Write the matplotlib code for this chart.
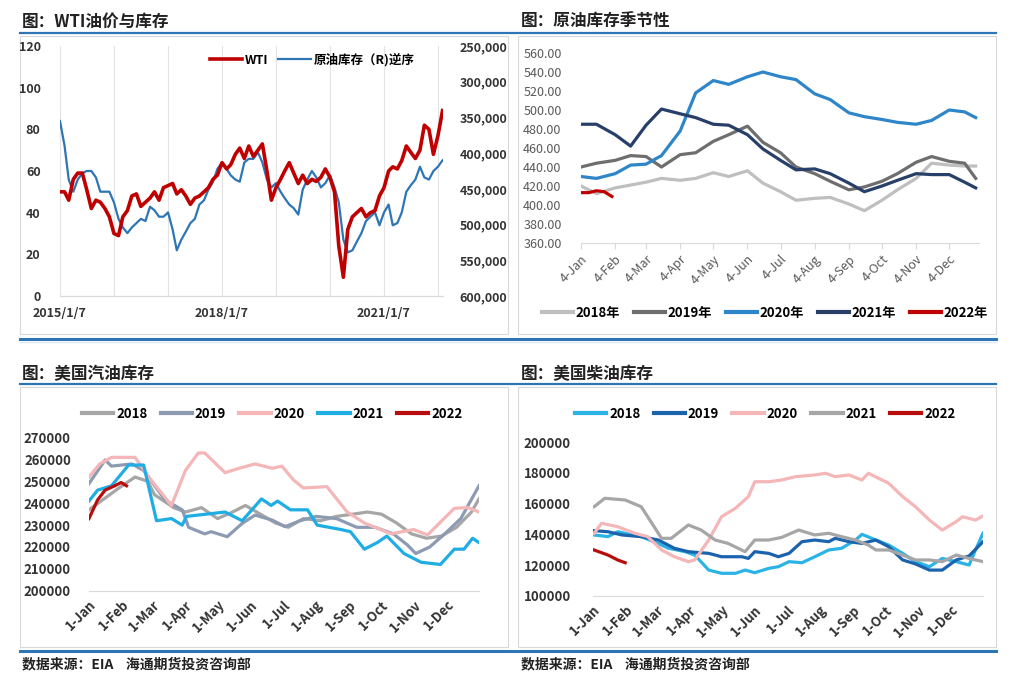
import matplotlib
matplotlib.use("Agg")
import matplotlib.pyplot as plt
import pandas as pd
from matplotlib.lines import Line2D
from matplotlib.patches import Rectangle
from matplotlib.ticker import FuncFormatter

plt.rcParams["font.family"] = ["Noto Sans CJK SC", "DejaVu Sans"]

W, H = 1016, 675
RULE = "#2E75B6"
BOX = "#D9D9D9"

# ---- WTI price vs crude inventory (monthly readings, 2015-01 .. 2022-02) ----
wti_months = pd.period_range("2015-01", "2022-02", freq="M")
wti_price = [
    50, 50, 46, 56, 59, 59, 51, 42, 46, 45, 42, 38,
    30, 29, 38, 41, 48, 49, 43, 45, 47, 50, 46, 52,
    53, 54, 49, 51, 48, 44, 47, 48, 50, 52, 56, 58,
    64, 61, 63, 68, 71, 66, 72, 67, 70, 73, 60, 46,
    52, 56, 60, 64, 59, 54, 58, 54, 56, 55, 57, 61,
    57, 50, 24, 9, 32, 38, 40, 42, 38, 40, 41, 48,
    52, 60, 62, 61, 65, 72, 69, 66, 70, 82, 80, 68,
    77, 89,
]
crude_stock = [
    355000, 390000, 437000, 454000, 437000, 428000, 425000, 425000, 434000, 454000, 454000, 454000,
    469000, 492000, 504000, 512000, 504000, 498000, 492000, 495000, 475000, 480000, 489000, 489000,
    483000, 507000, 536000, 521000, 510000, 498000, 492000, 472000, 466000, 451000, 440000, 422000,
    413000, 422000, 431000, 437000, 440000, 413000, 408000, 408000, 399000, 413000, 437000, 448000,
    442000, 454000, 463000, 472000, 477000, 486000, 451000, 437000, 425000, 434000, 448000, 442000,
    431000, 448000, 469000, 521000, 539000, 536000, 524000, 512000, 495000, 489000, 483000, 501000,
    483000, 472000, 501000, 498000, 483000, 454000, 445000, 437000, 419000, 434000, 437000, 425000,
    419000, 410000,
]
wti_years = [2015, 2016, 2017, 2018, 2019, 2020, 2021, 2022]
wti_labeled = [2015, 2018, 2021]

# ---- crude inventory seasonality (million bbl) ----
crude_dates = ["01-04", "01-18", "02-04", "02-18", "03-04", "03-18", "04-04", "04-18", "05-04",
               "05-18", "06-04", "06-18", "07-04", "07-18", "08-04", "08-18", "09-04", "09-18",
               "10-04", "10-18", "11-04", "11-18", "12-04", "12-18", "12-28"]
crude_2018 = [420, 412, 418, 421, 424, 428, 426, 428, 434, 430, 436, 423, 414, 405, 407, 408, 401,
              394, 405, 416, 428, 444, 442, 441, 441]
crude_2019 = [440, 444, 447, 452, 451, 440, 453, 455, 467, 474, 483, 466, 455, 440, 433, 425, 416,
              419, 425, 433, 445, 451, 446, 444, 428]
crude_2020 = [430, 428, 433, 442, 443, 452, 478, 518, 531, 527, 535, 540, 535, 532, 517, 511, 497,
              493, 490, 487, 485, 489, 500, 498, 492]
crude_2021 = [485, 485, 474, 462, 484, 501, 496, 492, 485, 484, 474, 459, 447, 437, 438, 433, 423,
              414, 420, 426, 433, 432, 432, 424, 418]
crude_2022_dates = ["01-04", "01-11", "01-18", "01-25", "02-01"]
crude_2022 = [413, 413, 415, 414, 409]

# ---- US gasoline inventory (thousand bbl) ----
gas_2018_dates = ["01-01", "01-15", "01-29", "02-13", "02-25", "03-03", "03-21", "04-01", "04-16",
                  "05-01", "05-15", "05-27", "06-10", "06-24", "07-06", "07-20", "08-05", "08-20",
                  "09-04", "09-18", "10-01", "10-15", "10-29", "11-12", "11-26", "12-10", "12-24",
                  "12-31"]
gas_2018 = [237000, 242000, 247000, 252000, 250000, 244000, 238000, 236000, 238000, 233000, 236000,
            239000, 235000, 231000, 229000, 233000, 232000, 234000, 235000, 236000, 235000, 231000,
            226000, 224000, 225000, 229000, 236000, 242000]
gas_2019_dates = ["01-01", "01-16", "01-22", "02-10", "02-21", "03-13", "03-29", "04-04", "04-19",
                  "04-25", "05-10", "05-24", "06-05", "06-21", "07-03", "07-17", "08-01", "08-20",
                  "09-08", "09-25", "10-12", "10-25", "11-02", "11-15", "11-29", "12-14", "12-31"]
gas_2019 = [249000, 259800, 257000, 258000, 255000, 241500, 237000, 229000, 226000, 227000, 224700,
            230800, 234600, 232300, 229300, 232000, 234000, 233000, 229000, 229000, 226000, 221000,
            217000, 220000, 226000, 233000, 248000]
gas_2020_dates = ["01-01", "01-11", "01-22", "02-13", "02-28", "03-19", "04-01", "04-13", "04-19",
                  "05-08", "05-21", "06-05", "06-21", "06-30", "07-11", "07-20", "08-11", "08-30",
                  "09-15", "10-10", "10-31", "11-13", "12-08", "12-21", "12-31"]
gas_2020 = [252000, 258000, 261000, 261000, 250600, 239000, 255000, 263000, 263000, 254000, 256000,
            258000, 256000, 257000, 250600, 247000, 247600, 236000, 231000, 226000, 228000, 225500,
            237700, 238000, 236000]
gas_2021_dates = ["01-01", "01-09", "01-22", "02-07", "02-21", "03-05", "03-19", "03-29", "04-02",
                  "05-08", "05-24", "06-11", "06-20", "06-26", "07-08", "07-24", "08-02", "08-24",
                  "09-02", "09-15", "09-27", "10-06", "10-22", "11-07", "11-25", "12-08", "12-17",
                  "12-25", "12-31"]
gas_2021 = [241000, 246000, 248000, 257500, 257500, 232000, 233000, 230000, 234000, 236000, 232000,
            242000, 239000, 241000, 237000, 237000, 230000, 228000, 227000, 219000, 222000, 225000,
            217000, 213000, 212000, 219000, 219000, 224000, 222000]
gas_2022_dates = ["01-01", "01-09", "01-16", "01-25", "01-31", "02-05"]
gas_2022 = [233000, 241500, 246000, 248000, 249500, 248000]

# ---- US distillate inventory (thousand bbl) ----
dsl_2018_dates = ["01-02", "01-15", "01-24", "02-15", "03-03", "03-12", "03-28", "04-06", "04-19",
                  "05-01", "05-14", "05-23", "06-01", "06-14", "06-23", "07-03", "07-15", "07-27",
                  "08-09", "08-21", "09-03", "09-09", "09-22", "10-04", "10-17", "10-29", "11-11",
                  "11-23", "12-06", "12-18", "12-24", "12-31"]
dsl_2018 = [139600, 138500, 141700, 138500, 134000, 131000, 128700, 126500, 116700, 114600, 114600,
            116700, 115000, 117800, 118900, 122200, 121500, 125400, 129800, 130900, 136300, 140000,
            136300, 133000, 127600, 122200, 118900, 124300, 122200, 120000, 129800, 140700]
dsl_2019_dates = ["01-02", "01-15", "01-28", "02-15", "03-03", "03-18", "03-31", "04-19", "05-01",
                  "05-20", "05-26", "06-01", "06-14", "06-23", "07-03", "07-15", "07-27", "08-09",
                  "08-15", "08-28", "09-09", "09-22", "10-04", "10-17", "10-29", "11-11", "11-23",
                  "12-06", "12-18", "12-31"]
dsl_2019 = [142400, 141700, 139600, 138500, 136300, 130900, 128700, 127600, 125400, 125400, 124300,
            128700, 127600, 125400, 127600, 135200, 136300, 135200, 137400, 135200, 134100, 136300,
            131900, 123300, 120700, 116700, 116700, 123300, 125900, 135200]
dsl_2020_dates = ["01-02", "01-09", "01-24", "02-09", "02-21", "03-06", "03-18", "03-31", "04-06",
                  "04-19", "05-01", "05-14", "05-26", "06-01", "06-14", "06-26", "07-09", "07-27",
                  "08-06", "08-15", "08-28", "09-09", "09-15", "10-04", "10-17", "10-29", "11-11",
                  "11-23", "12-06", "12-12", "12-24", "12-31"]
dsl_2020 = [140700, 147200, 145000, 140700, 138500, 129800, 125400, 122200, 123300, 136300, 151500,
            157000, 164600, 174300, 174300, 175400, 177600, 178700, 179800, 177600, 178700, 175400,
            179800, 173300, 164600, 158000, 149300, 142800, 148300, 151500, 149300, 152000]
dsl_2021_dates = ["01-02", "01-12", "01-31", "02-15", "02-25", "03-06", "03-15", "03-31", "04-12",
                  "04-25", "05-07", "05-23", "06-01", "06-14", "06-26", "07-12", "07-27", "08-09",
                  "08-21", "09-03", "09-15", "09-22", "10-04", "10-17", "10-29", "11-11", "11-23",
                  "12-06", "12-18", "12-31"]
dsl_2021 = [158000, 163500, 162400, 158000, 147200, 137400, 137400, 146100, 142800, 136300, 134100,
            128700, 136300, 136300, 138000, 142800, 139600, 140700, 138500, 136300, 133000, 129800,
            129800, 126500, 123300, 123300, 122200, 126500, 124300, 122200]
dsl_2022_dates = ["01-02", "01-15", "01-24", "01-31"]
dsl_2022 = [129800, 126500, 123300, 121500]

month_names = ["Jan", "Feb", "Mar", "Apr", "May", "Jun", "Jul", "Aug", "Sep", "Oct", "Nov", "Dec"]


def rect(x0, y0, x1, y1):
    return [x0 / W, 1 - y1 / H, (x1 - x0) / W, (y1 - y0) / H]


def md(dates):
    # seasonal charts: put every year on one dummy calendar
    return pd.to_datetime(["2021-" + d for d in dates])


def hline(fig, x0, x1, y, color, lw):
    fig.add_artist(Line2D([x0 / W, x1 / W], [1 - y / H, 1 - y / H], color=color, lw=lw))


def box(fig, x0, y0, x1, y1):
    fig.add_artist(Rectangle((x0 / W, 1 - y1 / H), (x1 - x0) / W, (y1 - y0) / H,
                             transform=fig.transFigure, fill=False, ec=BOX, lw=0.8))


def clean(ax):
    for side in ["top", "right", "left"]:
        ax.spines[side].set_visible(False)
    ax.spines["bottom"].set_color(BOX)
    ax.set_facecolor("none")


def bottom_legend(fig, series, cx, cy, size=9.5, label_suffix=""):
    handles = [Line2D([], [], color=c, lw=3) for _, c in series]
    labels = [f"{name}{label_suffix}" for name, _ in series]
    fig.legend(handles, labels, loc="center", bbox_to_anchor=(cx / W, 1 - cy / H), ncol=len(series),
               frameon=False, handlelength=2.4, columnspacing=1.0, handletextpad=0.2,
               prop={"weight": "bold", "size": size})


fig = plt.figure(figsize=(W / 100, H / 100), dpi=100)

# frame furniture: titles, blue rules, panel boxes, source lines
hline(fig, 20, 996, 33, RULE, 1.6)
hline(fig, 20, 996, 338.5, RULE, 2.2)
hline(fig, 20, 996, 342, "#DDEBF7", 1.0)
hline(fig, 20, 996, 383.5, RULE, 1.6)
hline(fig, 20, 996, 650.5, RULE, 2.2)
box(fig, 20, 36, 508, 334)
box(fig, 518, 36, 996, 334)
box(fig, 20, 387, 508, 647)
box(fig, 518, 387, 996, 647)

title_kw = dict(fontsize=12, fontweight="bold", color="#222222", va="center", ha="left")
fig.text(22 / W, 1 - 22 / H, "图：WTI油价与库存", **title_kw)
fig.text(521 / W, 1 - 22 / H, "图：原油库存季节性", **title_kw)
fig.text(22 / W, 1 - 374 / H, "图：美国汽油库存", **title_kw)
fig.text(521 / W, 1 - 374 / H, "图：美国柴油库存", **title_kw)
src_kw = dict(fontsize=10, fontweight="bold", color="#222222", va="center", ha="left")
fig.text(22 / W, 1 - 664 / H, "数据来源：EIA    海通期货投资咨询部", **src_kw)
fig.text(521 / W, 1 - 664 / H, "数据来源：EIA    海通期货投资咨询部", **src_kw)

# ---------------- panel 1: WTI vs inventory ----------------
wti_x = wti_months.to_timestamp() + pd.Timedelta(days=6)
year_ticks = [pd.Timestamp(f"{y}-01-07") for y in wti_years]
ax1 = fig.add_axes(rect(60, 46, 443, 296))
ax1r = ax1.twinx()
ax1.set_zorder(ax1r.get_zorder() + 1)
ax1.patch.set_visible(False)
# yearly guide lines on the lower (right-axis) layer so they stay behind both series
for t in year_ticks:
    ax1r.axvline(t, color="#E3E3E3", lw=0.8, zorder=0)
ax1r.plot(wti_x, crude_stock, color="#2E75B6", lw=1.6)
ax1.plot(wti_x, wti_price, color="#C00000", lw=2.6)
ax1.set_xlim(pd.Timestamp("2015-01-07"), pd.Timestamp("2022-02-10"))
ax1.set_ylim(0, 120)
ax1.set_yticks(range(0, 121, 20))
ax1r.set_ylim(600000, 250000)
ax1r.set_yticks(range(250000, 600001, 50000))
ax1r.yaxis.set_major_formatter(FuncFormatter(lambda v, _: f"{int(v):,}"))
ax1.set_xticks(year_ticks)
ax1.set_xticklabels([f"{y}/1/7" if y in wti_labeled else "" for y in wti_years])
for a in (ax1, ax1r):
    for side in ["top", "right", "left"]:
        a.spines[side].set_visible(False)
    a.spines["bottom"].set_color(BOX)
    a.tick_params(length=0, labelsize=9, labelcolor="#333333")
    for lab in a.get_yticklabels() + a.get_xticklabels():
        lab.set_fontweight("bold")
ax1.tick_params(axis="y", pad=14)
ax1.tick_params(axis="x", pad=8)
ax1r.tick_params(axis="y", pad=12)
ax1.legend([Line2D([], [], color="#C00000", lw=2.6), Line2D([], [], color="#2E75B6", lw=1.6)],
           ["WTI", "原油库存（R)逆序"], loc="center", bbox_to_anchor=(312 / W, 1 - 60 / H),
           bbox_transform=fig.transFigure, ncol=2, frameon=False, handlelength=2.6,
           columnspacing=0.8, handletextpad=0.2, prop={"weight": "bold", "size": 9})

# ---------------- panel 2: crude seasonality ----------------
crude_series = [("2018", "#BFBFBF", crude_dates, crude_2018),
                ("2019", "#6E6E6E", crude_dates, crude_2019),
                ("2020", "#2E86C9", crude_dates, crude_2020),
                ("2021", "#283F69", crude_dates, crude_2021),
                ("2022", "#C00000", crude_2022_dates, crude_2022)]
ax2 = fig.add_axes(rect(581, 53, 979, 243))
for name, color, dates, vals in crude_series:
    ax2.plot(md(dates), vals, color=color, lw=2.3)
ax2.set_xlim(pd.Timestamp("2021-01-04"), pd.Timestamp("2021-12-31"))
ax2.set_ylim(360, 560)
ax2.set_yticks(range(360, 561, 20))
ax2.yaxis.set_major_formatter(FuncFormatter(lambda v, _: f"{v:.2f}"))
ax2.set_xticks([pd.Timestamp(f"2021-{m:02d}-04") for m in range(1, 13)])
ax2.set_xticklabels([f"4-{n}" for n in month_names], rotation=45, ha="right", rotation_mode="anchor")
clean(ax2)
ax2.tick_params(axis="y", length=0, labelsize=9, labelcolor="#595959", pad=14)
ax2.tick_params(axis="x", length=4, color=BOX, labelsize=9, labelcolor="#595959", pad=3)
bottom_legend(fig, [(n, c) for n, c, _, _ in crude_series], 765, 313, size=9.5, label_suffix="年")

# ---------------- panels 3 and 4: gasoline and distillate ----------------
gas_series = [("2018", "#A6A6A6", gas_2018_dates, gas_2018),
              ("2019", "#8C9BB2", gas_2019_dates, gas_2019),
              ("2020", "#F4B6B6", gas_2020_dates, gas_2020),
              ("2021", "#1FADE4", gas_2021_dates, gas_2021),
              ("2022", "#B80D0D", gas_2022_dates, gas_2022)]
dsl_series = [("2018", "#2BB3E6", dsl_2018_dates, dsl_2018),
              ("2019", "#1C63AE", dsl_2019_dates, dsl_2019),
              ("2020", "#F4B6B6", dsl_2020_dates, dsl_2020),
              ("2021", "#A6A6A6", dsl_2021_dates, dsl_2021),
              ("2022", "#B80D0D", dsl_2022_dates, dsl_2022)]

for series, box_px, ylim, step, legend_cx, ypad in [
    (gas_series, (89, 437.7, 479, 590.7), (200000, 270000), 10000, 272, 13),
    (dsl_series, (593, 442.3, 983, 595.7), (100000, 200000), 20000, 765, 16),
]:
    ax = fig.add_axes(rect(*box_px))
    for name, color, dates, vals in series:
        ax.plot(md(dates), vals, color=color, lw=2.3)
    ax.set_xlim(pd.Timestamp("2021-01-01"), pd.Timestamp("2021-12-31"))
    ax.set_ylim(*ylim)
    ax.set_yticks(range(ylim[0], ylim[1] + 1, step))
    ax.set_xticks([pd.Timestamp(f"2021-{m:02d}-01") for m in range(1, 13)])
    ax.set_xticklabels([f"1-{n}" for n in month_names], rotation=45, ha="right",
                       rotation_mode="anchor")
    clean(ax)
    ax.tick_params(length=0, labelsize=9.5, labelcolor="#333333")
    ax.tick_params(axis="y", pad=ypad)
    ax.tick_params(axis="x", pad=5)
    for lab in ax.get_yticklabels() + ax.get_xticklabels():
        lab.set_fontweight("bold")
    bottom_legend(fig, [(n, c) for n, c, _, _ in series], legend_cx, 414, size=9.5)

fig.savefig("out.png", dpi=100)
